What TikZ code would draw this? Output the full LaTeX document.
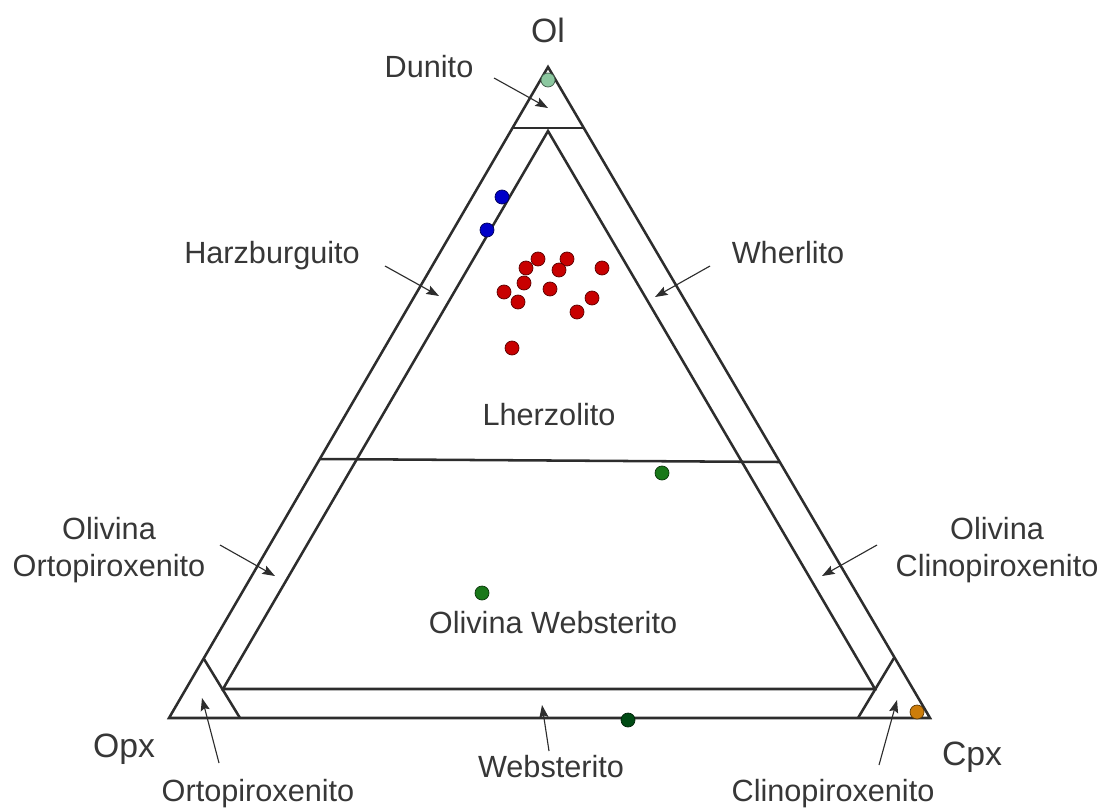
\documentclass[tikz,border=0pt]{standalone}
\usepackage{fontspec}
\setmainfont{Liberation Sans}
\usetikzlibrary{arrows.meta}
\definecolor{linegray}{RGB}{45,45,45}
\definecolor{textgray}{RGB}{55,55,55}
\definecolor{dunitegreen}{RGB}{140,200,160}
\definecolor{harzblue}{RGB}{0,0,200}
\definecolor{lherzred}{RGB}{200,0,0}
\definecolor{websgreen}{RGB}{25,120,25}
\definecolor{websdark}{RGB}{0,75,20}
\definecolor{cpxorange}{RGB}{205,125,10}
\tikzset{
	field/.style={line width=1.8pt, color=linegray, line join=miter},
	pointer/.style={line width=0.8pt, color=linegray, -{Stealth[length=9pt,width=6.5pt,inset=1.5pt]}},
	rocklabel/.style={text=textgray, font=\fontsize{21.8}{26.4}\selectfont, inner sep=0pt, anchor=base},
	pole/.style={rocklabel, font=\fontsize{24}{28}\selectfont},
	sample/.style={draw=#1!45!black, fill=#1, line width=0.5pt}
}

\begin{document}
\begin{tikzpicture}[x=0.025cm, y=-0.025cm]
		\useasboundingbox (0,0) rectangle (1102,808);
		%%%%% START %%%%%
		
		% outer triangle Ol - Opx - Cpx
		\draw[field] (548,67) -- (169,718) -- (930,718) -- cycle;
		
		% dunito cap
		\draw[field] (513,128) -- (584,128);
		
		% inner triangle
		\draw[field] (548,131) -- (223,689) -- (875,689) -- cycle;
		
		% corner fields
		\draw[field] (204,659) -- (240,718);
		\draw[field] (894,658) -- (858,718);
		
		% 40 Ol line
		\draw[field] (320,459) -- (780,462);
		
		% poles
		\node[pole] (ol) at (548,43) {Ol};
		\node[pole] (opx) at (124,757) {Opx};
		\node[pole] (cpx) at (972,765) {Cpx};
		
		% rock names
		\node[rocklabel] (dun) at (429,78) {Dunito};
		\node[rocklabel] (harz) at (272,263) {Harzburguito};
		\node[rocklabel] (wher) at (788,263) {Wherlito};
		\node[rocklabel] (lherz) at (549,425) {Lherzolito};
		\node[rocklabel, anchor=center, align=center] (olopx) at (109,550) {Olivina\\Ortopiroxenito};
		\node[rocklabel, anchor=center, align=center] (olcpx) at (997,550) {Olivina\\Clinopiroxenito};
		\node[rocklabel] (olweb) at (553,633) {Olivina Websterito};
		\node[rocklabel] (web) at (551,777) {Websterito};
		\node[rocklabel] (opxite) at (258,801) {Ortopiroxenito};
		\node[rocklabel] (cpxite) at (833,801) {Clinopiroxenito};
		
		% pointer ends
		\coordinate (dunT) at (494,78);     \coordinate (dunH) at (548,108);
		\coordinate (harzT) at (385,266);   \coordinate (harzH) at (439,296);
		\coordinate (wherT) at (710,266);   \coordinate (wherH) at (655,297);
		\coordinate (olopxT) at (220,545);  \coordinate (olopxH) at (275,576);
		\coordinate (olcpxT) at (877,545);  \coordinate (olcpxH) at (822,576);
		\coordinate (opxiteT) at (219,763); \coordinate (opxiteH) at (202,698);
		\coordinate (webT) at (549,751);    \coordinate (webH) at (542,705);
		\coordinate (cpxiteT) at (879,765); \coordinate (cpxiteH) at (897,700);
		
		\draw[pointer] (dunT) -- (dunH);
		\draw[pointer] (harzT) -- (harzH);
		\draw[pointer] (wherT) -- (wherH);
		\draw[pointer] (olopxT) -- (olopxH);
		\draw[pointer] (olcpxT) -- (olcpxH);
		\draw[pointer] (opxiteT) -- (opxiteH);
		\draw[pointer] (webT) -- (webH);
		\draw[pointer] (cpxiteT) -- (cpxiteH);
		
		% samples
		\draw[sample=dunitegreen] (548,80) circle (0.175cm);
		\draw[sample=harzblue] (502,197) circle (0.175cm);
		\draw[sample=harzblue] (487,230) circle (0.175cm);
		\foreach \px/\py in {538/259, 526/268, 567/259, 559/270, 602/268, 524/283,
			504/292, 550/289, 518/302, 592/298, 577/312, 512/348}
			\draw[sample=lherzred] (\px,\py) circle (0.175cm);
		\draw[sample=websgreen] (662,473) circle (0.175cm);
		\draw[sample=websgreen] (482,593) circle (0.175cm);
		\draw[sample=websdark] (628,720) circle (0.175cm);
		\draw[sample=cpxorange] (917,712) circle (0.175cm);
		
		%%%%% END %%%%%
\end{tikzpicture}
\end{document}
